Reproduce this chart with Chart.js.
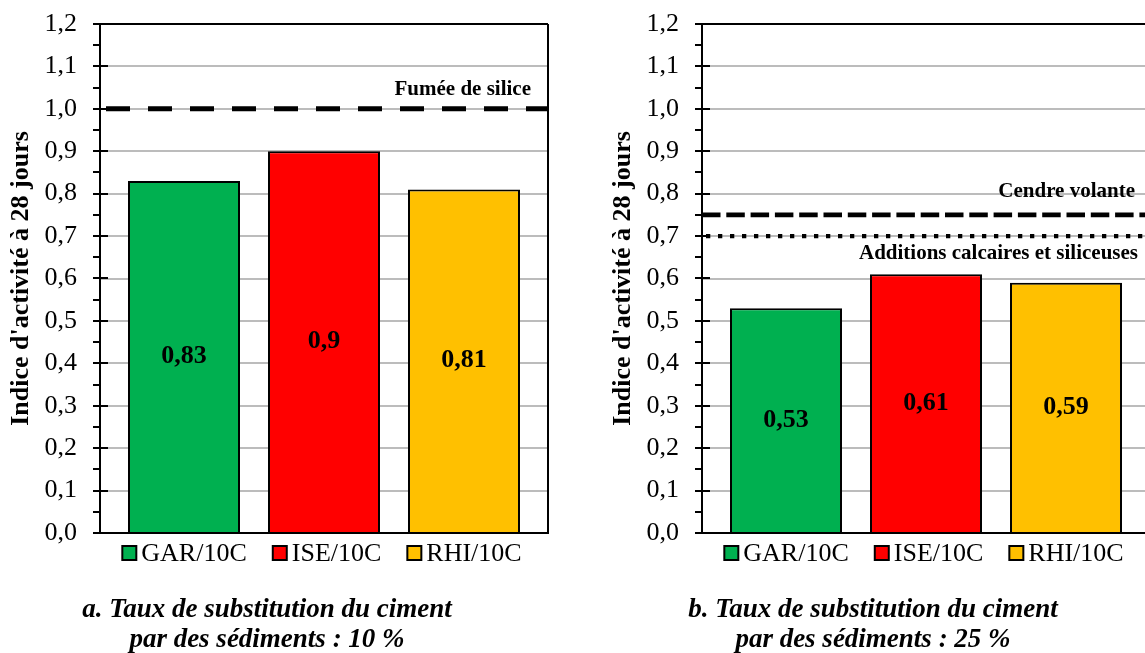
<!DOCTYPE html>
<html><head><meta charset="utf-8">
<script src="https://cdn.jsdelivr.net/npm/chart.js@4.4.1/dist/chart.umd.min.js"></script>
<style>
html,body{margin:0;padding:0;background:#fff;overflow:hidden;}
#wrap{position:relative;width:1145px;height:653px;overflow:hidden;background:#fff;}
canvas{position:absolute;top:0;}
#ca{left:0}
#cb{left:602px}
.cap{position:absolute;top:593px;width:500px;text-align:center;font-family:'Liberation Serif','Times New Roman',serif;font-style:italic;font-weight:bold;font-size:27px;line-height:30px;color:#000;white-space:nowrap}
</style></head><body>
<div id="wrap">
<canvas id="ca" width="560" height="653"></canvas>
<canvas id="cb" width="560" height="653"></canvas>
<div class="cap" style="left:17px">a. Taux de substitution du ciment<br>par des sédiments : 10 %</div>
<div class="cap" style="left:623px">b. Taux de substitution du ciment<br>par des sédiments : 25 %</div>
</div>
<script>
// ---- data ----
const categories = ['GAR/10C', 'ISE/10C', 'RHI/10C'];
const values10 = [0.83, 0.90, 0.81];
const values25 = [0.53, 0.61, 0.59];
const barColors = ['#00B050', '#FF0000', '#FFC000'];
const yTickLabels = ['0,0','0,1','0,2','0,3','0,4','0,5','0,6','0,7','0,8','0,9','1,0','1,1','1,2'];
const refValuesA = [1.0];
const refLabelsA = ['Fumée de silice'];
const refValuesB = [0.75, 0.70];
const refLabelsB = ['Cendre volante', 'Additions calcaires et siliceuses'];
const yTitle = "Indice d'activité à 28 jours";

// ---- styles ----
const FONT = "'Liberation Serif','Times New Roman',serif";
const refStylesA = [{width: 5, dash: [24, 18], offset: 36, dy: -14, dx: -17, base: 'alphabetic'}];
const refStylesB = [
  {width: 4.7, dash: [18.5, 5.8], offset: 0, dy: -18, dx: -15, base: 'alphabetic'},
  {width: 4.3, dash: [4.3, 7.7], offset: 8, dy: 23, dx: -12, base: 'alphabetic'}
];
const X_MIN = -0.6, X_MAX = 2.6;

function fmt(v) { return String(v).replace('.', ','); }

const framePlugin = {
  id: 'frame',
  afterDraw(chart) {
    const {ctx, chartArea: a, scales: {y}} = chart;
    ctx.save();
    ctx.strokeStyle = '#000';
    ctx.lineWidth = 2;
    ctx.beginPath();
    ctx.moveTo(a.left, a.top); ctx.lineTo(a.right, a.top);
    ctx.moveTo(a.right, a.top); ctx.lineTo(a.right, a.bottom);
    ctx.stroke();
    for (let k = 0; k <= 24; k++) {
      const py = Math.round(y.getPixelForValue(k * 0.05));
      ctx.beginPath();
      ctx.moveTo(a.left - 7, py);
      ctx.lineTo(k % 2 === 0 ? a.left + 8 : a.left, py);
      ctx.stroke();
    }
    ctx.restore();
  }
};

const labelsPlugin = {
  id: 'valueLabels',
  afterDatasetsDraw(chart) {
    const {ctx} = chart;
    ctx.save();
    ctx.fillStyle = '#000';
    ctx.font = 'bold 26px ' + FONT;
    ctx.textAlign = 'center';
    ctx.textBaseline = 'middle';
    chart.data.datasets.forEach((ds, i) => {
      const meta = chart.getDatasetMeta(i);
      if (meta.type !== 'bar') return;
      meta.data.forEach((el, j) => {
        ctx.fillText(fmt(ds.data[j].y), el.x, (el.y + el.base) / 2);
      });
    });
    const refs = chart.options.plugins.refLabels || [];
    const a = chart.chartArea, y = chart.scales.y;
    ctx.font = 'bold 21px ' + FONT;
    ctx.textAlign = 'right';
    refs.forEach(r => {
      ctx.textBaseline = r.base;
      ctx.fillText(r.text, a.right + r.dx, y.getPixelForValue(r.value) + r.dy);
    });
    ctx.restore();
  }
};

const legendPlugin = {
  id: 'customLegend',
  afterDraw(chart) {
    const {ctx, chartArea: a} = chart;
    ctx.save();
    ctx.font = '26px ' + FONT;
    const items = chart.data.datasets.filter(d => d.type === 'bar');
    const box = 14, gap = 5, spacing = 26;
    const widths = items.map(d => box + gap + ctx.measureText(d.label).width);
    const total = widths.reduce((s, w) => s + w, 0) + spacing * (items.length - 1);
    let x = (a.left + a.right) / 2 - total / 2 - 2;
    const top = a.bottom + 13;
    items.forEach((d, i) => {
      ctx.fillStyle = d.backgroundColor;
      ctx.fillRect(x, top, box, box);
      ctx.strokeStyle = '#000';
      ctx.lineWidth = 2;
      ctx.strokeRect(x, top, box, box);
      ctx.fillStyle = '#000';
      ctx.textAlign = 'left';
      ctx.textBaseline = 'middle';
      ctx.fillText(d.label, x + box + gap, top + box / 2 + 1);
      x += widths[i] + spacing;
    });
    ctx.restore();
  }
};

function makeChart(id, values, refValues, refLabels, refStyles) {
  const barSets = categories.map((c, i) => ({
    type: 'bar',
    label: c,
    data: [{x: i, y: values[i]}],
    backgroundColor: barColors[i],
    borderColor: '#000',
    borderWidth: 2,
    grouped: false,
    categoryPercentage: 1,
    barPercentage: 0.8,
    order: 2
  }));
  const lineSets = refValues.map((v, i) => ({
    type: 'line',
    label: refLabels[i],
    data: [{x: X_MIN, y: v}, {x: X_MAX, y: v}],
    borderColor: '#000',
    borderWidth: refStyles[i].width,
    borderDash: refStyles[i].dash,
    borderDashOffset: refStyles[i].offset,
    pointRadius: 0,
    fill: false,
    tension: 0,
    order: 1
  }));
  return new Chart(document.getElementById(id), {
    type: 'bar',
    data: {datasets: [...barSets, ...lineSets]},
    options: {
      responsive: false,
      animation: false,
      devicePixelRatio: 1,
      events: [],
      layout: {padding: {top: 24, right: 12, left: 0, bottom: 0}},
      plugins: {
        legend: {display: false},
        tooltip: {enabled: false},
        refLabels: refValues.map((v, i) => ({value: v, text: refLabels[i], dx: refStyles[i].dx, dy: refStyles[i].dy, base: refStyles[i].base}))
      },
      scales: {
        x: {
          type: 'linear',
          min: X_MIN, max: X_MAX,
          offset: false,
          afterBuildTicks: s => { s.ticks = categories.map((c, i) => ({value: i})); },
          afterFit: s => { s.height = 120; s.paddingLeft = 0; s.paddingRight = 0; },
          ticks: {display: false},
          grid: {display: false, drawTicks: false},
          border: {display: true, color: '#000', width: 2}
        },
        y: {
          min: 0, max: 1.2,
          afterFit: s => { s.width = 100; s.paddingTop = 0; s.paddingBottom = 0; },
          ticks: {
            stepSize: 0.1,
            padding: 23,
            color: '#000',
            font: {family: FONT, size: 26},
            callback: v => yTickLabels[Math.round(v * 10)]
          },
          grid: {color: '#bcbcbc', lineWidth: 2, drawTicks: false},
          border: {display: true, color: '#000', width: 2},
          title: {
            display: true,
            text: yTitle,
            color: '#000',
            font: {family: FONT, size: 26, weight: 'bold'},
            padding: {top: 6, bottom: 0}
          }
        }
      }
    },
    plugins: [framePlugin, labelsPlugin, legendPlugin]
  });
}

Chart.defaults.font.family = FONT;
makeChart('ca', values10, refValuesA, refLabelsA, refStylesA);
makeChart('cb', values25, refValuesB, refLabelsB, refStylesB);
</script>
</body></html>
